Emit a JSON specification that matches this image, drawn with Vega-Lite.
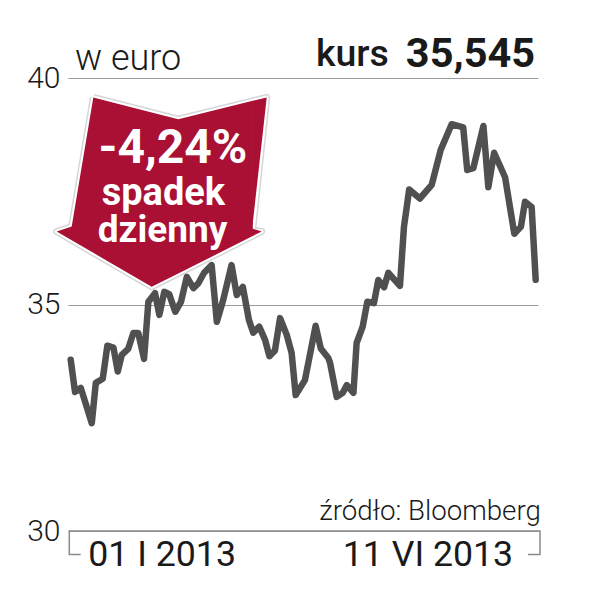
{
"$schema":"https://vega.github.io/schema/vega-lite/v6.json",
"width":470,"height":453,"autosize":{"type":"none"},
"padding":{"left":68,"top":78,"right":53,"bottom":60},
"background":"white",
"view":{"stroke":null},
"datasets":{
"kurs":[{"d":0,"v":33.78},{"d":1.5,"v":33.07},{"d":3.5,"v":33.16},{"d":7.3,"v":32.38},{"d":8.7,"v":33.27},{"d":11.1,"v":33.36},{"d":12.7,"v":34.09},{"d":14.8,"v":34.05},{"d":16.3,"v":33.52},{"d":17.7,"v":33.89},{"d":19.9,"v":34.02},{"d":21.7,"v":34.37},{"d":23.4,"v":34.37},{"d":25.4,"v":33.8},{"d":26.9,"v":35.06},{"d":29.2,"v":35.25},{"d":30.7,"v":34.77},{"d":32.4,"v":35.28},{"d":34.1,"v":35.23},{"d":36.2,"v":34.84},{"d":38.2,"v":35.06},{"d":40.2,"v":35.61},{"d":42.5,"v":35.36},{"d":44.2,"v":35.47},{"d":46.2,"v":35.7},{"d":48.8,"v":35.87},{"d":50.6,"v":34.62},{"d":52.8,"v":35.1},{"d":55.7,"v":35.87},{"d":57.5,"v":35.21},{"d":59.6,"v":35.39},{"d":61.7,"v":34.66},{"d":63.2,"v":34.38},{"d":65.3,"v":34.51},{"d":67.3,"v":34.22},{"d":68.8,"v":33.86},{"d":70.7,"v":33.98},{"d":72.5,"v":34.7},{"d":74.8,"v":34.33},{"d":76.5,"v":33.93},{"d":77.9,"v":33.0},{"d":81.1,"v":33.33},{"d":84.8,"v":34.53},{"d":86.6,"v":34.03},{"d":89.2,"v":33.82},{"d":89.8,"v":33.71},{"d":92.1,"v":32.96},{"d":94.2,"v":33.05},{"d":95.6,"v":33.22},{"d":97.9,"v":33.05},{"d":99.0,"v":34.15},{"d":101.1,"v":34.51},{"d":102.7,"v":35.06},{"d":105.0,"v":35.03},{"d":106.5,"v":35.54},{"d":108.5,"v":35.38},{"d":110.0,"v":35.7},{"d":114.0,"v":35.41},{"d":115.4,"v":36.72},{"d":117.2,"v":37.54},{"d":120.9,"v":37.34},{"d":125.0,"v":37.64},{"d":128.1,"v":38.41},{"d":131.9,"v":38.98},{"d":135.9,"v":38.91},{"d":137.3,"v":37.97},{"d":139.4,"v":38.01},{"d":142.9,"v":38.94},{"d":144.6,"v":37.59},{"d":146.6,"v":38.35},{"d":150.4,"v":37.81},{"d":153.6,"v":36.56},{"d":155.9,"v":36.72},{"d":157.3,"v":37.27},{"d":159.6,"v":37.15},{"d":161,"v":35.545}],
"ramka":[{"o":1,"d":3.46,"v":29.48},{"o":2,"d":-0.48,"v":29.48},{"o":3,"d":-0.48,"v":30},{"o":4,"d":162.5,"v":30},{"o":5,"d":162.5,"v":29.48},{"o":6,"d":158.3,"v":29.48}],
"kontur":[{"o":1,"d":7.83,"v":39.57},{"o":2,"d":37.26,"v":39.09},{"o":3,"d":67.87,"v":39.57},{"o":4,"d":63.02,"v":36.64},{"o":5,"d":66.14,"v":36.61},{"o":6,"d":28.05,"v":35.39},{"o":7,"d":-4.85,"v":36.61},{"o":8,"d":0.35,"v":36.72},{"o":9,"d":7.83,"v":39.57}],
"strzalka":[{"p":"a","d":-4.85,"v":36.61,"v2":36.61},{"p":"a","d":0.35,"v":36.72,"v2":36.417},{"p":"a","d":7.83,"v":39.57,"v2":36.14},{"p":"a","d":28.05,"v":39.24,"v2":35.39},{"p":"a","d":37.26,"v":39.09,"v2":35.685},{"p":"a","d":63.02,"v":39.5,"v2":36.51},{"p":"b","d":62.8,"v":39.495,"v2":36.66},{"p":"b","d":67.87,"v":39.57,"v2":39.57},{"p":"c","d":62.8,"v":36.68,"v2":36.505},{"p":"c","d":66.14,"v":36.61,"v2":36.61}]
},
"encoding":{
"x":{"field":"d","type":"quantitative","title":null,"scale":{"domain":[-0.93,161.8],"nice":false,"zero":false},
"axis":{"values":[0,161],"domain":false,"ticks":false,"grid":false,"labelExpr":"datum.value==0?'01 I 2013':'11 VI 2013'","labelFont":"Roboto","labelFontSize":35.7,"labelColor":"#1a1a1a","labelBaseline":"alphabetic","labelPadding":34,"labelBound":false,"labelFlush":false,"labelOverlap":false,"labelAlign":{"condition":{"test":"datum.value==0","value":"left"},"value":"right"},"labelOffset":{"condition":{"test":"datum.value==0","value":17},"value":-23}}},
"y":{"field":"v","type":"quantitative","title":null,"scale":{"domain":[30,40],"nice":false,"zero":false},
"axis":{"values":[30,35,40],"domain":false,"ticks":false,"grid":true,"gridColor":"#9a9a9a","gridWidth":1,"labelFont":"Roboto","labelFontWeight":300,"labelFontSize":30,"labelColor":"#1a1a1a","labelPadding":8,"labelBound":false,"labelFlush":false,"labelOverlap":false}}
},
"layer":[
{"data":{"name":"ramka"},"mark":{"type":"line","color":"#8a8a8a","strokeWidth":1.5,"clip":false},"encoding":{"order":{"field":"o"}}},
{"data":{"name":"kurs"},"mark":{"type":"line","color":"#505050","strokeWidth":6.5,"strokeJoin":"round","strokeCap":"round"}},
{"data":{"name":"kontur"},"mark":{"type":"line","color":"#c4c4c4","strokeWidth":7,"strokeJoin":"round","opacity":0.7},"encoding":{"order":{"field":"o"}}},
{"data":{"name":"kontur"},"mark":{"type":"line","color":"#ffffff","strokeWidth":4,"strokeJoin":"round"},"encoding":{"order":{"field":"o"}}},
{"data":{"name":"strzalka"},"mark":{"type":"area","color":"#a91034","line":false,"opacity":1},"encoding":{"y2":{"field":"v2"},"detail":{"field":"p"}}},
{"data":{"values":[{"d":35.4,"v":38.12,"t":"-4,24%"}]},"mark":{"type":"text","font":"Roboto","fontWeight":700,"fontSize":48,"color":"#ffffff","align":"center","baseline":"alphabetic"},"encoding":{"text":{"field":"t"}}},
{"data":{"values":[{"d":32.1,"v":37.2,"t":"spadek"}]},"mark":{"type":"text","font":"Roboto","fontWeight":700,"fontSize":38,"color":"#ffffff","align":"center","baseline":"alphabetic"},"encoding":{"text":{"field":"t"}}},
{"data":{"values":[{"d":31.8,"v":36.39,"t":"dzienny"}]},"mark":{"type":"text","font":"Roboto","fontWeight":700,"fontSize":37,"color":"#ffffff","align":"center","baseline":"alphabetic"},"encoding":{"text":{"field":"t"}}},
{"data":{"values":[{"d":1.49,"v":40.18,"t":"w euro"}]},"mark":{"type":"text","font":"Roboto","fontWeight":300,"fontSize":36,"color":"#1a1a1a","align":"left","baseline":"alphabetic"},"encoding":{"text":{"field":"t"}}},
{"data":{"values":[{"d":84.9,"v":40.26,"t":"kurs"}]},"mark":{"type":"text","font":"Roboto","fontWeight":500,"fontSize":37.5,"color":"#1a1a1a","align":"left","baseline":"alphabetic"},"encoding":{"text":{"field":"t"}}},
{"data":{"values":[{"d":160.8,"v":40.24,"t":"35,545"}]},"mark":{"type":"text","font":"Roboto","fontWeight":700,"fontSize":41.5,"color":"#1a1a1a","align":"right","baseline":"alphabetic"},"encoding":{"text":{"field":"t"}}},
{"data":{"values":[{"d":162.8,"v":30.24,"t":"źródło: Bloomberg"}]},"mark":{"type":"text","font":"Roboto","fontWeight":300,"fontSize":27.7,"color":"#1a1a1a","align":"right","baseline":"alphabetic"},"encoding":{"text":{"field":"t"}}}
]
}
